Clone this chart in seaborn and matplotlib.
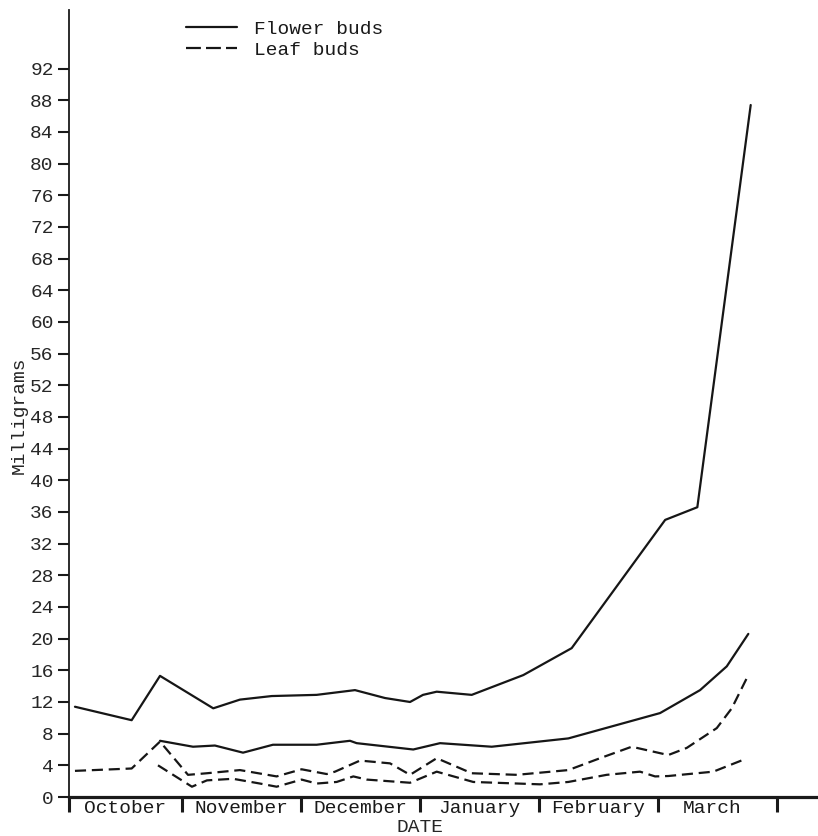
import matplotlib
matplotlib.use("Agg")
import matplotlib.pyplot as plt
from matplotlib.lines import Line2D
import pandas as pd
import seaborn as sns

# Position along the season in months after 1 October, dry weight in milligrams
flower_a_x = [0.105, 0.581, 0.819, 1.266, 1.490, 1.757, 2.134, 2.456, 2.708, 2.918,
              3.027, 3.142, 3.436, 3.869, 4.275, 5.060, 5.330, 5.778]
flower_a_mg = [11.4, 9.7, 15.3, 11.2, 12.3, 12.75, 12.9, 13.5, 12.5, 12.0,
               12.9, 13.3, 12.9, 15.4, 18.8, 35.0, 36.6, 87.4]

flower_b_x = [0.819, 1.096, 1.280, 1.516, 1.767, 2.134, 2.414, 2.470, 2.945, 3.170,
              3.604, 4.247, 5.017, 5.353, 5.577, 5.758]
flower_b_mg = [7.1, 6.35, 6.5, 5.6, 6.6, 6.6, 7.1, 6.8, 6.0, 6.8,
               6.35, 7.4, 10.6, 13.5, 16.5, 20.6]

leaf_a_x = [0.105, 0.581, 0.819, 1.054, 1.213, 1.490, 1.798, 2.008, 2.218, 2.288,
            2.498, 2.750, 2.918, 3.142, 3.436, 3.814, 4.247, 4.513, 4.779, 5.086,
            5.241, 5.493, 5.619, 5.758]
leaf_a_mg = [3.3, 3.6, 7.0, 2.8, 3.0, 3.4, 2.6, 3.5, 2.9, 3.2,
             4.6, 4.25, 2.8, 4.9, 3.0, 2.8, 3.4, 4.9, 6.35, 5.3,
             6.2, 8.7, 11.2, 15.4]

leaf_b_x = [0.802, 1.087, 1.213, 1.432, 1.658, 1.798, 2.008, 2.134, 2.302, 2.442,
            2.554, 2.918, 3.142, 3.449, 4.009, 4.247, 4.569, 4.849, 4.975, 5.086,
            5.464, 5.716]
leaf_b_mg = [4.0, 1.3, 2.1, 2.3, 1.7, 1.3, 2.2, 1.7, 1.9, 2.6,
             2.2, 1.8, 3.2, 1.9, 1.6, 1.9, 2.8, 3.2, 2.6, 2.65,
             3.2, 4.7]

months = ["October", "November", "December", "January", "February", "March"]
y_ticks = list(range(0, 93, 4))

bud_types = ["Flower buds", "Leaf buds"]

frames = []
for sid, (bud, xs, ys) in enumerate([
        (bud_types[0], flower_a_x, flower_a_mg),
        (bud_types[0], flower_b_x, flower_b_mg),
        (bud_types[1], leaf_a_x, leaf_a_mg),
        (bud_types[1], leaf_b_x, leaf_b_mg)]):
    frames.append(pd.DataFrame({"month": xs, "mg": ys, "bud": bud, "series": sid}))
df = pd.concat(frames, ignore_index=True)

sns.set_style("ticks")
plt.rcParams["font.family"] = ["Liberation Mono", "DejaVu Sans Mono"]
plt.rcParams["text.color"] = "#1a1a1a"

W, H = 818, 836
fig = plt.figure(figsize=(W / 100, H / 100), dpi=100)
fig.patch.set_facecolor("white")
ax_left, ax_bottom, ax_top = 69, 797, 10
ax = fig.add_axes([ax_left / W, (H - ax_bottom) / H, 1 - ax_left / W,
                   (ax_bottom - ax_top) / H])

leaf_dash = (5, 2.6)
sns.lineplot(data=df, x="month", y="mg", units="series", estimator=None,
             style="bud", dashes={"Flower buds": "", "Leaf buds": leaf_dash},
             color="#161616", lw=1.6, sort=False, legend=False, ax=ax)

x_lo, x_hi = 0.055, 6.343
ax.set_xlim(x_lo, x_hi)
ax.set_ylim(0, 99.4)

ax.set_yticks(y_ticks)
ax.set_yticklabels([str(v) for v in y_ticks], fontsize=14)
ax.tick_params(axis="y", direction="out", length=8, width=1.5, pad=3,
               color="#1a1a1a")

edges = [x_lo, 1, 2, 3, 4, 5, 6]
ax.set_xticks(edges)
ax.set_xticklabels([""] * len(edges))
ax.tick_params(axis="x", direction="out", length=11, width=2.2, color="#1a1a1a")

label_centres = [(edges[i] + edges[i + 1]) / 2 for i in range(len(edges) - 1)]
label_centres[-1] = 5.45
for name, mid in zip(months, label_centres):
    ax.annotate(name, xy=(mid, 0), xycoords=("data", "axes fraction"),
                xytext=(0, -8.3), textcoords="offset points",
                ha="center", va="center", fontsize=14)

ax.set_xlabel("DATE", fontsize=14, va="top")
ax.xaxis.set_label_coords((420 - ax_left) / (W - ax_left), -22 / (ax_bottom - ax_top))
ax.set_ylabel("Milligrams", fontsize=14)
ax.yaxis.set_label_coords((28 - ax_left) / (W - ax_left), (ax_bottom - 415) / (ax_bottom - ax_top))

for side in ("top", "right"):
    ax.spines[side].set_visible(False)
ax.spines["left"].set_linewidth(1.3)
ax.spines["left"].set_color("#1a1a1a")
ax.spines["bottom"].set_linewidth(2.3)
ax.spines["bottom"].set_color("#1a1a1a")

handles = [Line2D([], [], color="#161616", lw=1.6, ls="-"),
           Line2D([], [], color="#161616", lw=1.6, ls=(0, (6.7, 2.3)))]
fig.legend(handles, bud_types, loc="upper left",
           bbox_to_anchor=(186 / W, 1 - 20 / H), frameon=False,
           fontsize=14, handlelength=2.6, handletextpad=0.9,
           labelspacing=0.2, borderpad=0, borderaxespad=0)

fig.savefig("out.png", dpi=100, facecolor="white")
